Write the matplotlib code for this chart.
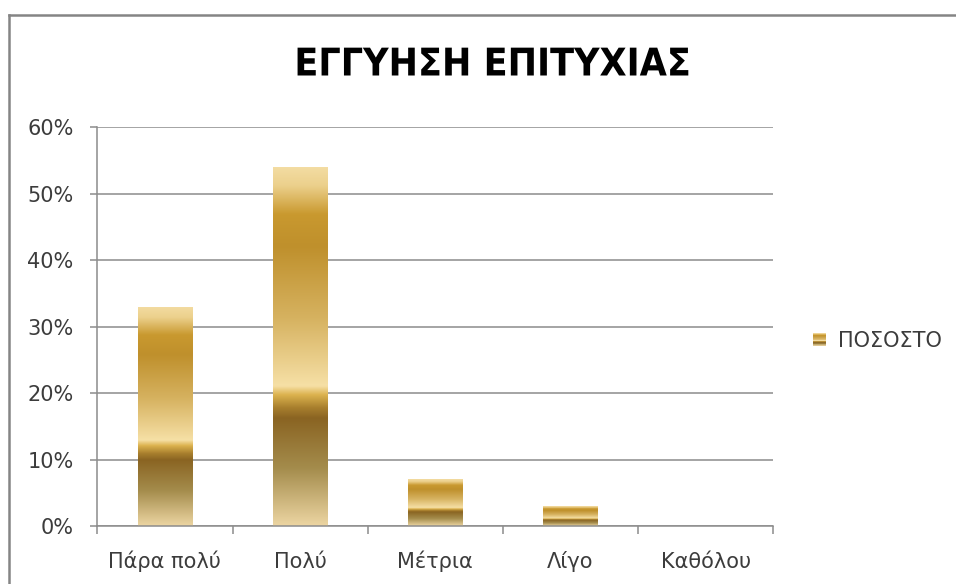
import numpy as np
import matplotlib
matplotlib.use("Agg")
import matplotlib.pyplot as plt
from matplotlib.colors import LinearSegmentedColormap
from matplotlib.patches import Rectangle, Patch
from matplotlib.lines import Line2D
from matplotlib.legend_handler import HandlerBase
from matplotlib.patheffects import AbstractPathEffect
from matplotlib.transforms import Affine2D
from matplotlib.ticker import PercentFormatter

categories = ["Πάρα πολύ", "Πολύ", "Μέτρια", "Λίγο", "Καθόλου"]
percentages = [33, 54, 7, 3, 0]
series_name = "ΠΟΣΟΣΤΟ"
title = "ΕΓΓΥΗΣΗ ΕΠΙΤΥΧΙΑΣ"

W, H, DPI = 956, 584, 100
GRID = "#8c8c8c"
TEXT = "#3c3c3c"

# gold gradient, 0 = top of bar, 1 = bottom of bar
gold = LinearSegmentedColormap.from_list("gold", [
    (0.00, "#f3dca2"),
    (0.05, "#ecd08c"),
    (0.13, "#c9992f"),
    (0.22, "#bf902c"),
    (0.42, "#d6b260"),
    (0.61, "#f6e0a6"),
    (0.635, "#dcb24e"),
    (0.67, "#a9802e"),
    (0.70, "#8a6422"),
    (0.84, "#a48c4c"),
    (1.00, "#ecd5a2"),
])


class Squeeze(AbstractPathEffect):
    """Narrow the glyphs horizontally around a fixed x (display px)."""

    def __init__(self, sx, cx):
        super().__init__()
        self.sx = sx
        self.cx = cx

    def draw_path(self, renderer, gc, tpath, affine, rgbFace=None):
        squeeze = Affine2D().translate(-self.cx, 0).scale(self.sx, 1).translate(self.cx, 0)
        renderer.draw_path(gc, tpath, affine + squeeze, rgbFace)


class GoldSwatch(HandlerBase):
    def create_artists(self, legend, orig_handle, xdescent, ydescent,
                       width, height, fontsize, trans):
        n = 16
        parts = []
        for i in range(n):
            parts.append(Rectangle((-xdescent, -ydescent + i * height / n),
                                   width, height / n,
                                   facecolor=gold(1 - (i + 0.5) / n),
                                   edgecolor="none", transform=trans))
        return parts


fig = plt.figure(figsize=(W / DPI, H / DPI), dpi=DPI)
ax = fig.add_axes([97.3 / W, (H - 526) / H, 676 / W, (526 - 127.3) / H])

x = np.arange(len(categories))
bars = ax.bar(x, percentages, width=0.4, facecolor="none", edgecolor="none", zorder=2)

grad = np.linspace(0, 1, 256).reshape(-1, 1)
for patch in bars.patches:
    h = patch.get_height()
    if h <= 0:
        continue
    x0 = patch.get_x()
    im = ax.imshow(grad, cmap=gold, vmin=0, vmax=1, aspect="auto", origin="upper",
                   extent=[x0, x0 + patch.get_width(), 0, h],
                   interpolation="bilinear", zorder=2)
    im.set_clip_path(patch)

ax.set_xlim(-0.5, len(categories) - 0.5)
ax.set_ylim(0, 60)
ax.set_yticks(np.arange(0, 61, 10))
ax.yaxis.set_major_formatter(PercentFormatter(xmax=100, decimals=0))
ax.yaxis.grid(True, color=GRID, linewidth=1.1)
ax.set_axisbelow(True)

ax.set_xticks(np.arange(-0.5, len(categories)), labels=[])
ax.set_xticks(x, labels=categories, minor=True)
ax.tick_params(axis="x", which="major", length=6, width=1.1, color=GRID, direction="out")
ax.tick_params(axis="x", which="minor", length=0, pad=30, labelsize=15, labelcolor=TEXT)
for lab in ax.get_xticklabels(minor=True):
    lab.set_verticalalignment("baseline")
ax.tick_params(axis="y", length=5, width=1.1, color=GRID, pad=12,
               labelsize=15, labelcolor=TEXT)

for side in ("top", "right"):
    ax.spines[side].set_visible(False)
for side in ("left", "bottom"):
    ax.spines[side].set_color(GRID)
    ax.spines[side].set_linewidth(1.1)

# chart title, narrowed to the condensed look
fig.text(493 / W, 1 - 65.5 / H, title, ha="center", va="center",
         fontsize=27.5, fontweight="bold", color="black",
         path_effects=[Squeeze(0.92, 493)])

handle = Patch()
fig.legend([handle], [series_name], handler_map={handle: GoldSwatch()},
           loc="center left", bbox_to_anchor=(813 / W, 1 - 341 / H),
           frameon=False, fontsize=15, labelcolor=TEXT,
           handlelength=0.6, handleheight=0.55, handletextpad=0.6,
           borderpad=0, borderaxespad=0)

# outer chart frame (left and top edges)
fig.add_artist(Line2D([9 / W, 9 / W], [0, 1 - 15 / H], color="#858585", linewidth=1.8))
fig.add_artist(Line2D([9 / W, 1], [1 - 15 / H, 1 - 15 / H], color="#858585", linewidth=1.8))

fig.savefig("out.png", dpi=DPI, facecolor="white")
